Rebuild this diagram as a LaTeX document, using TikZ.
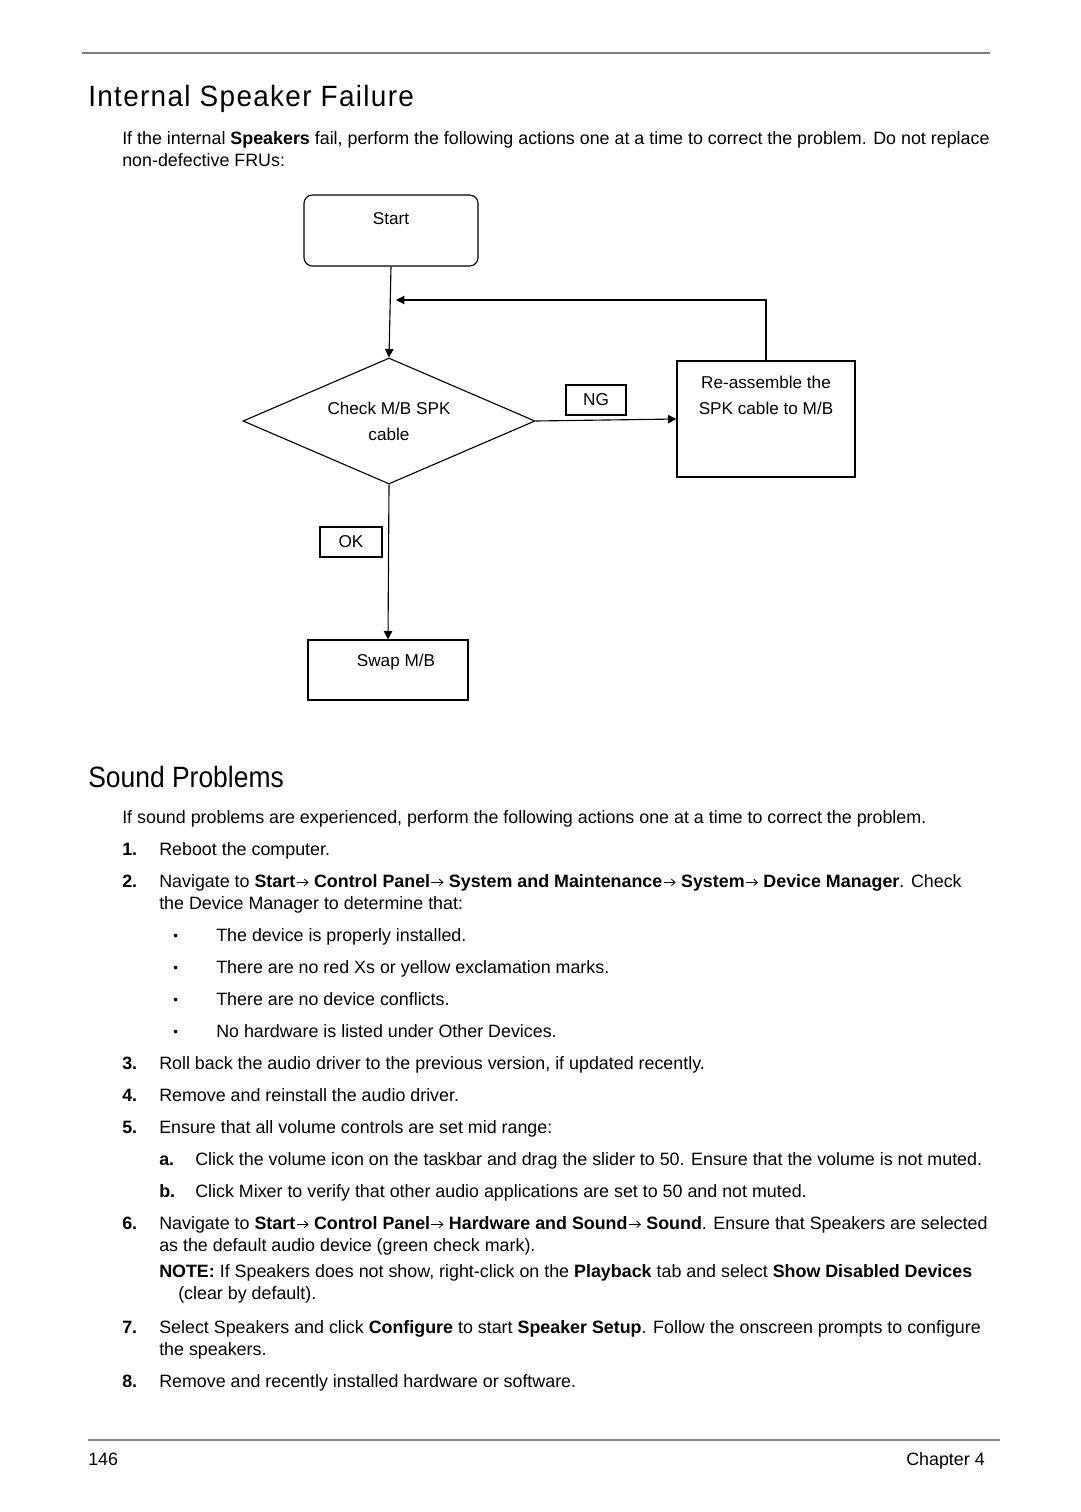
\documentclass[tikz,border=0pt]{standalone}
\usepackage{fontspec}
\setmainfont{Liberation Sans}
\newfontfamily\headfont[FakeStretch=0.9]{Liberation Sans}
\newfontfamily\titlefont[FakeStretch=0.95,LetterSpace=4.5]{Liberation Sans}
\usetikzlibrary{arrows.meta,shapes.geometric}

\newcommand{\bodysize}{\fontsize{12.7}{15}\selectfont}
\newcommand{\flowsize}{\fontsize{12.2}{18.5}\selectfont}
\newcommand{\headsize}{\fontsize{20.9}{25}\selectfont}
\newcommand{\nav}{\kern0.6pt\tikz[baseline=0pt,x=1pt,y=1pt]\draw[line width=0.6pt,-{Straight Barb[length=2.6pt,width=4.6pt]}] (0,3.3) -- (8.6,3.3);}

\tikzset{
  txt/.style={anchor=base west, inner sep=0pt, font=\bodysize},
  num/.style={txt, font=\bodysize\bfseries},
  headline/.style={anchor=base west, inner sep=0pt, font=\headfont\headsize},
  pagerule/.style={draw=gray, line width=1.4pt},
  flowbox/.style={draw, line width=0.8pt, inner sep=0pt},
  tagbox/.style={flowbox, minimum width=1.5cm, minimum height=0.75cm, font=\flowsize},
  flowtxt/.style={anchor=base, inner sep=0pt, font=\flowsize, align=center},
  flowarrow/.style={line width=0.8pt, -{Triangle[length=6pt,width=6pt]}}
}

\begin{document}
\begin{tikzpicture}[x=0.025cm,y=-0.025cm]
  \useasboundingbox (0,0) rectangle (1080,1512);

  % page header
  \coordinate (topl) at (82,53);
  \coordinate (topr) at (990,53);
  \draw[pagerule] (topl) -- (topr);
  \node[headline, font=\titlefont\headsize] (title) at (88,106) {Internal Speaker Failure};
  \node[txt] (p1) at (122,144) {If the internal \textbf{Speakers} fail, perform the following actions one at a time to correct the problem. Do not replace};
  \node[txt] (p2) at (122,166) {non-defective FRUs:};

  % flowchart
  \node[flowbox, rounded corners=6pt, minimum width=4.35cm, minimum height=1.775cm] (start) at (391,230.5) {};
  \node[flowtxt] (start-t) at (391,224) {Start};
  \node[flowbox, diamond, minimum width=7.3cm, minimum height=3.15cm, aspect=2.32, font=\flowsize, align=center] (chk) at (389,421) {Check M/B SPK\\cable};
  \node[flowbox, minimum width=4.45cm, minimum height=2.9cm] (fix) at (766,419) {};
  \node[flowtxt, anchor=north] (fix-t) at (766,376) {Re-assemble the\\SPK cable to M/B};
  \node[tagbox] (ng) at (596,400) {NG};
  \node[tagbox, minimum width=1.55cm] (ok) at (351,542) {OK};
  \node[flowbox, minimum width=4cm, minimum height=1.5cm] (swap) at (388,670) {};
  \node[flowtxt] (swap-t) at (396,666) {Swap M/B};
  \coordinate (back) at (396,300);

  \draw[flowarrow] (start.south) -- (chk.north);
  \draw[flowarrow] (fix.north) |- (back);
  \draw[flowarrow] (chk.east) -- (fix.west);
  \draw[flowarrow] (chk.south) -- (swap.north);

  % sound problems
  \node[headline] (sound) at (88,787) {Sound Problems};
  \node[txt] (s0) at (122,823) {If sound problems are experienced, perform the following actions one at a time to correct the problem.};
  \node[num] (n1) at (122,855) {1.};
  \node[txt] (t1) at (159,855) {Reboot the computer.};
  \node[num] (n2) at (122,887) {2.};
  \node[txt] (t2) at (159,887) {Navigate to \textbf{Start}\nav\ \textbf{Control Panel}\nav\ \textbf{System and Maintenance}\nav\ \textbf{System}\nav\ \textbf{Device Manager}. Check};
  \node[txt] (t2b) at (159,909) {the Device Manager to determine that:};
  \foreach \i/\y/\s in {1/941/The device is properly installed.,
                        2/973/There are no red Xs or yellow exclamation marks.,
                        3/1005/There are no device conflicts.,
                        4/1037/No hardware is listed under Other Devices.}{
    \node[txt, font=\fontsize{9.5}{11}\selectfont] (dot\i) at (173,\y-1) {•};
    \node[txt] (bul\i) at (216,\y) {\s};
  }
  \node[num] (n3) at (122,1069) {3.};
  \node[txt] (t3) at (159,1069) {Roll back the audio driver to the previous version, if updated recently.};
  \node[num] (n4) at (122,1101) {4.};
  \node[txt] (t4) at (159,1101) {Remove and reinstall the audio driver.};
  \node[num] (n5) at (122,1133) {5.};
  \node[txt] (t5) at (159,1133) {Ensure that all volume controls are set mid range:};
  \node[num] (na) at (159,1165) {a.};
  \node[txt] (ta) at (195,1165) {Click the volume icon on the taskbar and drag the slider to 50. Ensure that the volume is not muted.};
  \node[num] (nb) at (159,1197) {b.};
  \node[txt] (tb) at (195,1197) {Click Mixer to verify that other audio applications are set to 50 and not muted.};
  \node[num] (n6) at (122,1229) {6.};
  \node[txt] (t6) at (159,1229) {Navigate to \textbf{Start}\nav\ \textbf{Control Panel}\nav\ \textbf{Hardware and Sound}\nav\ \textbf{Sound}. Ensure that Speakers are selected};
  \node[txt] (t6b) at (159,1251) {as the default audio device (green check mark).};
  \node[txt] (note) at (159,1277) {\textbf{NOTE:} If Speakers does not show, right-click on the \textbf{Playback} tab and select \textbf{Show Disabled Devices}};
  \node[txt] (noteb) at (178,1299) {(clear by default).};
  \node[num] (n7) at (122,1333) {7.};
  \node[txt] (t7) at (159,1333) {Select Speakers and click \textbf{Configure} to start \textbf{Speaker Setup}. Follow the onscreen prompts to configure};
  \node[txt] (t7b) at (159,1355) {the speakers.};
  \node[num] (n8) at (122,1387) {8.};
  \node[txt] (t8) at (159,1387) {Remove and recently installed hardware or software.};

  % page footer
  \coordinate (botl) at (88,1440);
  \coordinate (botr) at (1000,1440);
  \draw[pagerule] (botl) -- (botr);
  \node[txt] (page) at (88,1465) {146};
  \node[txt, anchor=base east] (chap) at (985,1465) {Chapter 4};
\end{tikzpicture}
\end{document}
